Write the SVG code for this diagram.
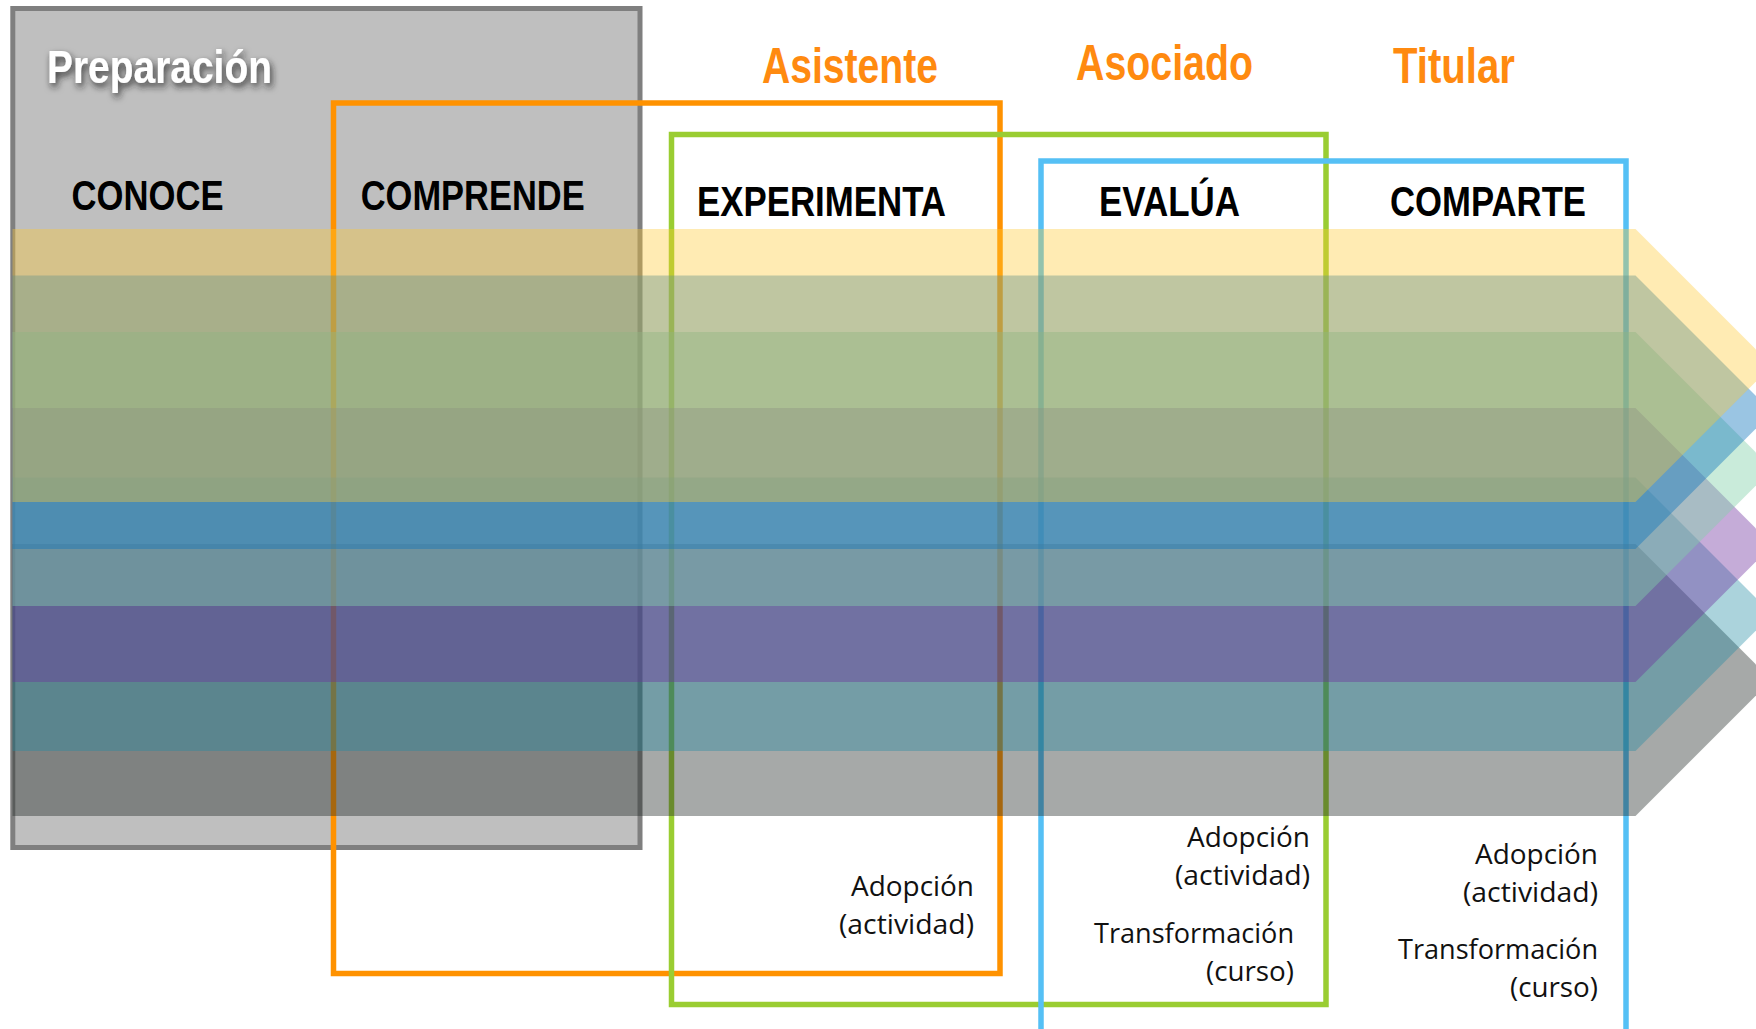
<svg xmlns="http://www.w3.org/2000/svg" width="1756" height="1029" viewBox="0 0 1756 1029">
<defs>
<style>
.hd{font-family:'Liberation Sans Narrow','Arial Narrow','Liberation Sans',Arial,sans-serif;font-weight:bold;}
.stage{font-size:42px;fill:#000;}
.stage2{font-size:43px;fill:#000;}
.role{font-size:50px;fill:#FF8A10;}
.note{font-family:'Open Sans','Noto Sans','Liberation Sans',sans-serif;font-size:28px;fill:#111;text-anchor:end;}
.frame{fill:none;stroke-width:5.5;}
</style>
<filter id="sh" x="-10%" y="-30%" width="130%" height="180%">
<feDropShadow dx="2" dy="4" stdDeviation="3.5" flood-color="#202020" flood-opacity="0.85"/>
</filter>
</defs>
<rect width="1756" height="1029" fill="#ffffff"/>

<g id="preparacion">
<rect x="12.8" y="8.5" width="627.2" height="839" fill="#BFBFBF" stroke="#7F7F7F" stroke-width="5"/>
<text class="hd" x="47" y="83" font-size="47" fill="#ffffff" filter="url(#sh)" textLength="225" lengthAdjust="spacingAndGlyphs">Preparación</text>
</g>

<g id="asistente">
<rect class="frame" x="333.5" y="103" width="666.5" height="870.5" stroke="#FF9200" stroke-width="6"/>
<text class="hd role" x="762" y="83" textLength="176" lengthAdjust="spacingAndGlyphs">Asistente</text>
<text class="note" x="974" y="896" textLength="123" lengthAdjust="spacingAndGlyphs">Adopción</text>
<text class="note" x="974" y="934" textLength="135" lengthAdjust="spacingAndGlyphs">(actividad)</text>
</g>

<g id="asociado">
<rect class="frame" x="671.5" y="134.5" width="654.5" height="870" stroke="#9ACD32"/>
<text class="hd role" x="1076" y="80" textLength="177" lengthAdjust="spacingAndGlyphs">Asociado</text>
<text class="note" x="1310" y="847" textLength="123" lengthAdjust="spacingAndGlyphs">Adopción</text>
<text class="note" x="1310" y="885" textLength="135" lengthAdjust="spacingAndGlyphs">(actividad)</text>
<text class="note" x="1294" y="943" textLength="200" lengthAdjust="spacingAndGlyphs">Transformación</text>
<text class="note" x="1294" y="981" textLength="88" lengthAdjust="spacingAndGlyphs">(curso)</text>
</g>

<g id="titular">
<rect class="frame" x="1041" y="161" width="585" height="900" stroke="#55C0F5" stroke-width="5"/>
<text class="hd role" x="1393" y="83" textLength="122" lengthAdjust="spacingAndGlyphs">Titular</text>
<text class="note" x="1598" y="864" textLength="123" lengthAdjust="spacingAndGlyphs">Adopción</text>
<text class="note" x="1598" y="902" textLength="135" lengthAdjust="spacingAndGlyphs">(actividad)</text>
<text class="note" x="1598" y="959" textLength="200" lengthAdjust="spacingAndGlyphs">Transformación</text>
<text class="note" x="1598" y="997" textLength="88" lengthAdjust="spacingAndGlyphs">(curso)</text>
</g>

<g id="stage-conoce"><text class="hd stage" x="71.5" y="210" textLength="152" lengthAdjust="spacingAndGlyphs">CONOCE</text></g>
<g id="stage-comprende"><text class="hd stage" x="360.7" y="210" textLength="224" lengthAdjust="spacingAndGlyphs">COMPRENDE</text></g>
<g id="stage-experimenta"><text class="hd stage2" x="697" y="216" textLength="249" lengthAdjust="spacingAndGlyphs">EXPERIMENTA</text></g>
<g id="stage-evalua"><text class="hd stage2" x="1099" y="216" textLength="141" lengthAdjust="spacingAndGlyphs">EVALÚA</text></g>
<g id="stage-comparte"><text class="hd stage2" x="1390" y="216" textLength="196" lengthAdjust="spacingAndGlyphs">COMPARTE</text></g>

<g id="ribbons">
<polygon points="12.5,544 1635.5,544 1771.5,680 1635.5,816 12.5,816" fill="rgb(33,40,38)" fill-opacity="0.4"/>
<polygon points="12.5,477.5 1635.5,477.5 1772.25,614.25 1635.5,751 12.5,751" fill="rgb(34,139,163)" fill-opacity="0.38"/>
<polygon points="12.5,408 1635.5,408 1772.5,545 1635.5,682 12.5,682" fill="rgb(110,48,158)" fill-opacity="0.4"/>
<polygon points="12.5,332 1635.5,332 1772.5,469 1635.5,606 12.5,606" fill="rgb(129,208,169)" fill-opacity="0.43"/>
<polygon points="12.5,275.5 1635.5,275.5 1772.25,412.25 1635.5,549 12.5,549" fill="rgb(15,117,188)" fill-opacity="0.42"/>
<polygon points="12.5,229 1635.5,229 1772,365.5 1635.5,502 12.5,502" fill="rgb(255,201,49)" fill-opacity="0.37"/>
</g>
</svg>
